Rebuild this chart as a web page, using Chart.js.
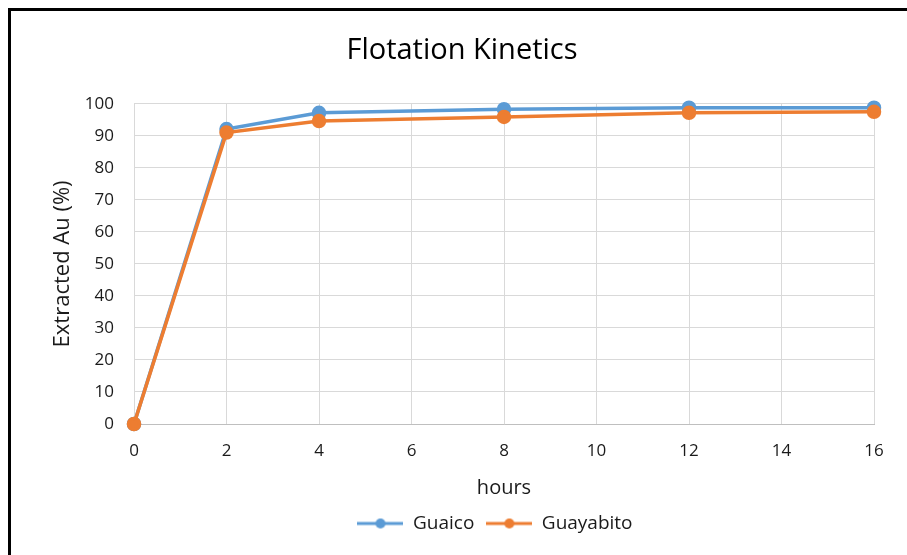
<!DOCTYPE html>
<html>
<head>
<meta charset="utf-8">
<script src="https://cdn.jsdelivr.net/npm/chart.js@4.4.1/dist/chart.umd.min.js"></script>
<style>
  html, body { margin: 0; padding: 0; background: #fff; overflow: hidden; }
  #frame { position: absolute; left: 8px; top: 8px; width: 1000px; height: 1000px; border: 3px solid #000; }
  #wrap { position: absolute; left: 0; top: 0; width: 907px; height: 555px; }
</style>
</head>
<body>
<div id="frame"></div>
<div id="wrap"><canvas id="kineticsChart"></canvas></div>
<script>
// data
var hours = [0, 2, 4, 8, 12, 16];
var guaico = [0, 92.1, 97.2, 98.3, 98.8, 98.8];
var guayabito = [0, 91.0, 94.6, 95.9, 97.2, 97.5];
var xTicks = [0, 2, 4, 6, 8, 10, 12, 14, 16];
var yTicks = [0, 10, 20, 30, 40, 50, 60, 70, 80, 90, 100];

var blue = "#5B9BD5";
var orange = "#ED7D31";
var textColor = "#1a1a1a";
var gridColor = "#d9d9d9";
var fontFamily = "'Open Sans', 'Liberation Sans', sans-serif";

function toPoints(ys) {
	return hours.map(function (h, i) { return { x: h, y: ys[i] }; });
}

// small line + dot marker for the legend, like the spreadsheet one
function legendMarker(color) {
	var c = document.createElement("canvas");
	c.width = 46; c.height = 12;
	var g = c.getContext("2d");
	g.strokeStyle = color;
	g.lineWidth = 3;
	g.beginPath(); g.moveTo(0, 6); g.lineTo(46, 6); g.stroke();
	g.fillStyle = color;
	g.beginPath(); g.arc(23, 6, 5, 0, Math.PI * 2); g.fill();
	return c;
}

// the spreadsheet centres title and legend a bit right of the plot box
var nudge = {
	id: "nudge",
	afterLayout: function (chart) {
		chart.titleBlock.left += 15; chart.titleBlock.right += 15;
		chart.legend.left += 48; chart.legend.right += 48;
	}
};

var ctx = document.getElementById("kineticsChart").getContext("2d");
new Chart(ctx, {
	type: "scatter",
	plugins: [nudge],
	data: {
		datasets: [{
			label: "Guaico",
			data: toPoints(guaico),
			order: 1,
			showLine: true,
			clip: false,
			borderColor: blue,
			backgroundColor: blue,
			borderWidth: 3.5,
			pointRadius: 5.5,
			pointHoverRadius: 5.5
		}, {
			label: "Guayabito",
			data: toPoints(guayabito),
			order: 0,
			showLine: true,
			clip: false,
			borderColor: orange,
			backgroundColor: orange,
			borderWidth: 3.5,
			pointRadius: 5.5,
			pointHoverRadius: 5.5
		}]
	},
	options: {
		responsive: true,
		maintainAspectRatio: false,
		animation: false,
		layout: { padding: { left: 20, right: 33, top: 18, bottom: 12 } },
		plugins: {
			title: {
				display: true,
				text: "Flotation Kinetics",
				color: "#000",
				font: { family: fontFamily, size: 29, weight: "normal" },
				padding: { top: 15, bottom: 36 }
			},
			legend: {
				position: "bottom",
				labels: {
					color: textColor,
					font: { family: fontFamily, size: 19 },
					usePointStyle: true,
					pointStyleWidth: 46,
					padding: 12,
					generateLabels: function (chart) {
						return chart.data.datasets.map(function (ds, i) {
							return {
								text: ds.label,
								pointStyle: legendMarker(ds.borderColor),
								fillStyle: ds.borderColor,
								strokeStyle: ds.borderColor,
								lineWidth: 0,
								hidden: false,
								datasetIndex: i,
								fontColor: textColor
							};
						});
					}
				}
			},
			tooltip: { enabled: false }
		},
		scales: {
			x: {
				type: "linear",
				min: 0,
				max: 16,
				afterBuildTicks: function (scale) {
					scale.ticks = xTicks.map(function (v) { return { value: v }; });
				},
				afterFit: function (scale) { scale.height = 78; },
				grid: { color: gridColor, drawTicks: false },
				border: { color: "#bfbfbf" },
				ticks: { color: textColor, padding: 17, font: { family: fontFamily, size: 17 } },
				title: {
					display: true,
					text: "hours",
					color: textColor,
					font: { family: fontFamily, size: 20 },
					padding: { top: 14, bottom: 2 }
				}
			},
			y: {
				min: 0,
				max: 100,
				afterBuildTicks: function (scale) {
					scale.ticks = yTicks.map(function (v) { return { value: v }; });
				},
				afterFit: function (scale) { scale.width = 114; },
				grid: { color: gridColor, drawTicks: false },
				border: { color: gridColor },
				ticks: { color: textColor, padding: 20, font: { family: fontFamily, size: 17 } },
				title: {
					display: true,
					text: "Extracted Au (%)",
					color: textColor,
					font: { family: fontFamily, size: 22 },
					padding: { top: 30, bottom: 8 }
				}
			}
		}
	}
});
</script>
</body>
</html>
